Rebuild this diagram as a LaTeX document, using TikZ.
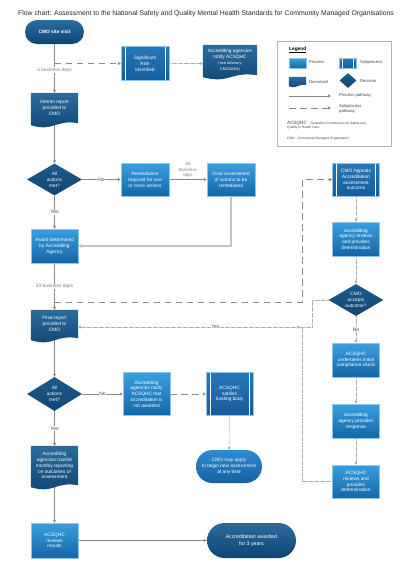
\documentclass[tikz,border=0pt]{standalone}
\usepackage{fontspec}
\setmainfont{Liberation Sans}
\usetikzlibrary{shapes.geometric,shapes.misc,arrows.meta,calc}
\definecolor{dkTop}{HTML}{2B6C9E}
\definecolor{dkBot}{HTML}{0E4573}
\definecolor{decTop}{HTML}{1D5A8A}
\definecolor{decBot}{HTML}{114673}
\definecolor{procTop}{HTML}{3A9FE0}
\definecolor{procBot}{HTML}{1466A6}
\definecolor{procEdge}{HTML}{8CC8EE}
\definecolor{subTop}{HTML}{2677B8}
\definecolor{subBot}{HTML}{175C9C}
\definecolor{lineGray}{HTML}{8A8A8A}
\definecolor{dotGray}{HTML}{B0B0B0}
\definecolor{loopGray}{HTML}{C4C4C4}
\definecolor{lblBlue}{HTML}{1F4E79}
\definecolor{lblGray}{HTML}{7A7A7A}
\definecolor{legText}{HTML}{404040}
\definecolor{applyTop}{HTML}{2F8AD0}
\definecolor{applyBot}{HTML}{1562A2}
\newcommand\fsz{\fontsize{4.8}{5.8}\selectfont}
\newcommand\fleg{\fontsize{4.2}{5}\selectfont}
\pgfdeclarelayer{edges}
\pgfdeclarelayer{bg}
\pgfsetlayers{edges,bg,main}
\newcommand\mydoc[2][1]{%
 \begin{pgfonlayer}{bg}
 \path[top color=dkTop, bottom color=dkBot] (#2.north west) -- (#2.north east) -- (#2.south east)
   .. controls ([yshift=#1*4pt]$(#2.south west)!0.5!(#2.south east)$) and ([yshift=-#1*9pt]$(#2.south west)!0.5!(#2.south east)$) .. ([yshift=-#1*2pt]#2.south west) -- cycle;
 \end{pgfonlayer}}
\tikzset{
 box/.style={font=\fsz, text=white, align=center, inner sep=1pt},
 sz/.style 2 args={minimum width=#1pt, minimum height=#2pt},
 proc/.style={box, rectangle, draw=procEdge, line width=0.5pt, top color=procTop, bottom color=procBot},
 subp/.style={box, rectangle, draw=procEdge, line width=0.4pt, top color=subTop, bottom color=subBot,
   path picture={\draw[white, line width=0.7pt]
     ([xshift=#1]path picture bounding box.north west) -- ([xshift=#1]path picture bounding box.south west)
     ([xshift=-#1]path picture bounding box.north east) -- ([xshift=-#1]path picture bounding box.south east);}},
 subp/.default=4pt,
 docn/.style={box, rectangle},
 dec/.style={box, diamond, aspect=1.7, inner sep=0pt, top color=decTop, bottom color=decBot},
 term/.style={box, rounded rectangle, top color=dkTop, bottom color=dkBot},
 solidarr/.style={draw=lineGray, line width=0.6pt, -{Triangle[length=3pt,width=3pt]}},
 dasharr/.style={draw=lineGray, line width=0.6pt, dash pattern=on 6.5pt off 4.5pt, -{Triangle[length=3pt,width=3pt]}},
 dotline/.style={draw=dotGray, line width=0.7pt, dash pattern=on 0.6pt off 0.6pt},
 dotarr/.style={dotline, -{Triangle[length=3pt,width=3pt,fill=lineGray]}},
 yn/.style={font=\fontsize{5}{6}\selectfont, text=lblBlue, fill=white, inner sep=0.6pt},
 gl/.style={font=\fsz, text=lblGray, fill=white, inner sep=0.6pt, align=center},
 legt/.style={font=\fleg, text=legText, anchor=west, inner sep=0pt, align=left},
}
\begin{document}
\begin{tikzpicture}[x=1pt,y=-1pt]
\useasboundingbox (0,0) rectangle (410,579);

\node[anchor=west, inner sep=0pt, font=\fontsize{6.85}{8}\selectfont, text=black!85] (title) at (18,14)
 {Flow chart: Assessment to the National Safety and Quality Mental Health Standards for Community Managed Organisations};

% ---------- left column ----------
\node[term, sz={61}{24}, font=\fsz\bfseries] (cmo) at (54.5,32) {CMO site visit};
\node[subp, sz={48}{34}] (risk) at (145,63.5) {Significant\\Risk\\identified};
\node[docn, sz={54}{30}] (notify1) at (230,60)
 {Accrediting agencies\\notify ACSQHC\\{\fontsize{3.8}{4.8}\selectfont (see Advisory}\\{\fontsize{3.8}{4.8}\selectfont CMO20/04)}};
\mydoc{notify1}
\node[docn, sz={47}{30}] (interim) at (54.5,108) {Interim report\\provided to\\CMO};
\mydoc{interim}
\node[dec, sz={55}{32}] (d1) at (54.5,179.5) {All\\actions\\met?};
\node[proc, sz={48}{33}] (remed) at (145,179.5) {Remediation\\required for one\\or more actions};
\node[proc, sz={48}{33}] (finalassess) at (231,179.5) {Final assessment\\of actions to be\\remediated};
\node[proc, sz={47}{34}] (award) at (54.5,246) {Award determined\\by Accrediting\\Agency};
\node[docn, sz={47}{28}] (final) at (54.5,324) {Final report\\provided to\\CMO};
\mydoc{final}
\node[dec, sz={55}{34}] (d2) at (54.5,394) {All\\actions\\met?};
\node[proc, sz={47}{43}] (notnot) at (146.5,394) {Accrediting\\agencies notify\\ACSQHC that\\accreditation is\\not awarded};
\node[subp, sz={47}{43}] (funding) at (229.5,394) {ACSQHC\\notifies\\funding body};
\node[term, sz={68}{33}, top color=applyTop, bottom color=applyBot] (cmoapply) at (229,466.5) {CMO may apply\\to begin new assessment\\at any time};
\node[docn, sz={47}{39}] (monthly) at (54.5,465.5) {Accrediting\\agencies routine\\monthly reporting\\on outcomes of\\assessment};
\mydoc{monthly}
\node[proc, sz={47}{35}] (revres) at (54.5,540.5) {ACSQHC\\reviews\\results};
\node[term, sz={91}{35}, font=\fontsize{5.2}{6.4}\selectfont] (awarded) at (251.5,540.5) {Accreditation awarded\\for 3 years};

% ---------- right column ----------
\node[subp, sz={47}{33}] (appeal) at (356,179.5) {CMO Appeals\\Accreditation\\assessment\\outcome};
\node[proc, sz={47}{34}] (agrev) at (356,239) {Accrediting\\agency reviews\\and provides\\determination};
\node[dec, sz={55}{32}] (d3) at (356,300) {CMO\\accepts\\outcome?};
\node[proc, sz={47}{34}] (undert) at (356,360) {ACSQHC\\undertakes initial\\compliance check};
\node[proc, sz={47}{34}] (resp) at (356,421) {Accrediting\\agency provides\\response};
\node[proc, sz={47}{33}] (revdet) at (356,481.5) {ACSQHC\\reviews and\\provides\\determination};

% ---------- coordinates ----------
\coordinate (j5) at (54.5,63.5);
\coordinate (j1) at (54.5,302);
\coordinate (j2) at (302,302);
\coordinate (j4) at (312,327);
\coordinate (j6) at (296,327);
\coordinate (j7) at (302,327);

% ---------- connectors ----------
\begin{pgfonlayer}{edges}
\draw[solidarr] (cmo) -- (interim.north);
\draw[dasharr] (j5) -- (risk.west);
\path (j5) ++(0,6.5) node[gl] (l5) {5 business days};
\draw[dotarr] (risk.east) -- (risk.east -| notify1.west);
\draw[solidarr] (interim.south) -- (d1.north);
\draw[solidarr] (d1) -- node[yn] (no1) {No} (remed);
\draw[solidarr] (remed) -- node[gl, above=1pt, fill=none, font=\fontsize{4.4}{5.4}\selectfont] (l60) {60\\Business\\days} (finalassess);
\draw[draw=loopGray, line width=1.2pt, -{Triangle[length=3.5pt,width=3.5pt]}] (finalassess.south) |- (award.east);
\draw[solidarr] (d1) -- node[yn] (yes1) {Yes} (award);
\draw[solidarr] (award) -- node[gl] (l20) {20 business days} (final.north);
\draw[dasharr] (j1) -- (j2) |- (appeal.west);
\draw[dotarr] (appeal) -- (agrev);
\draw[dotarr] (agrev) -- (d3);
\draw[dotarr] (d3.west) -| (j4) -- (j6);
\draw[dotarr] (j6) -- node[yn, pos=0.37] (yes3) {Yes} (j6 -| final.east);
\draw[dotarr] (d3) -- node[yn] (no3) {No} (undert);
\draw[dotarr] (undert) -- (resp);
\draw[dotarr] (resp) -- (revdet);
\draw[dotline] (revdet.west) -| (j7);
\draw[solidarr] (final.south) -- (d2.north);
\draw[solidarr] (d2) -- node[yn] (no2) {No} (notnot);
\draw[dasharr] (notnot) -- (funding);
\draw[dotarr] (funding) -- (cmoapply);
\draw[solidarr] (d2) -- node[yn] (yes2) {Yes} (monthly.north);
\draw[solidarr] (monthly.south) -- (revres);
\draw[solidarr] (revres) -- (awarded);
\end{pgfonlayer}

% ---------- legend ----------
\node[draw=black!30, line width=0.5pt, anchor=north west, minimum width=114pt, minimum height=105pt, inner sep=0pt] (legend) at (277,41) {};
\node[anchor=west, inner sep=0pt, font=\fontsize{4.8}{6}\selectfont\bfseries] (lgtitle) at (289,50) {\underline{Legend}};
\node[proc, sz={17}{10}, inner sep=0pt, line width=0.3pt] (lgproc) at (297.5,63) {};
\node[legt] (lgproct) at (309,62) {Process};
\node[subp=3pt, sz={17}{10}, inner sep=0pt] (lgsub) at (347.5,63) {};
\node[legt] (lgsubt) at (360,62) {Subprocess};
\node[docn, sz={17}{8}, inner sep=0pt] (lgdoc) at (297.5,81) {};
\mydoc[0.5]{lgdoc}
\node[legt] (lgdoct) at (309,82) {Document};
\node[dec, sz={17}{15}] (lgdec) at (348,80.5) {};
\node[legt] (lgdect) at (360,81) {Decision};
\coordinate (lga1) at (289,96);
\coordinate (lga2) at (331,96);
\draw[solidarr] (lga1) -- (lga2);
\node[legt] (lgat) at (339,95) {Process pathway};
\coordinate (lgb1) at (289,108);
\coordinate (lgb2) at (331,108);
\draw[dasharr] (lgb1) -- (lgb2);
\node[legt] (lgbt) at (339,108.5) {Subprocess\\pathway};
\node[legt] (lgacs) at (287,125)
 {\fontsize{4.6}{5}\selectfont ACSQHC -\ {\fontsize{3.3}{4.2}\selectfont Australian Commission on Safety and}\\[-0.5pt]{\fontsize{3.3}{4.2}\selectfont Quality in Health Care}};
\node[legt, font=\fontsize{3.3}{4.2}\selectfont] (lgcmo) at (287,139) {CMO - Community Managed Organisation};
\end{tikzpicture}
\end{document}
